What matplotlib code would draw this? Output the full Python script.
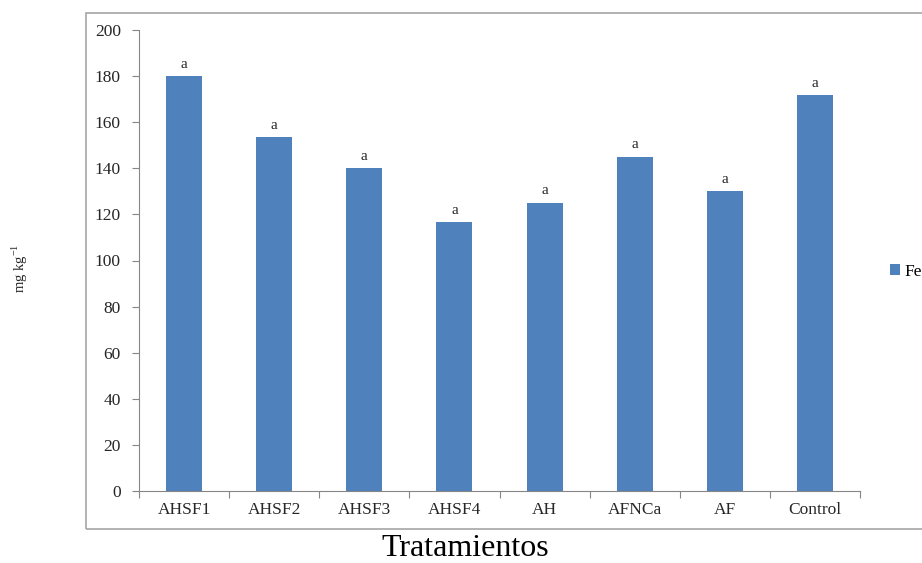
import matplotlib
matplotlib.use('Agg')
from matplotlib import pyplot as plt
from matplotlib.patches import Rectangle

plt.rcParams['font.family'] = ['Liberation Serif', 'DejaVu Serif']

tratamientos = ['AHSF1', 'AHSF2', 'AHSF3', 'AHSF4', 'AH', 'AFNCa', 'AF', 'Control']
fe = [180, 153.5, 140, 116.5, 125, 145, 130, 171.7]
letras = ['a', 'a', 'a', 'a', 'a', 'a', 'a', 'a']

fig = plt.figure(figsize=(9.22, 5.63), dpi=100)
ax = fig.add_axes([139 / 922, 72 / 563, 721 / 922, 461 / 563])

# outer chart border
fig.patches.append(Rectangle((86 / 922, 34 / 563), 0.99 - 86 / 922 + 0.02, 516 / 563,
                             transform=fig.transFigure, fill=False,
                             edgecolor='#a6a6a6', linewidth=1.2))

x = range(len(tratamientos))
bars = ax.bar(x, fe, width=0.4, color='#4F81BD', label='Fe')

for i, (v, l) in enumerate(zip(fe, letras)):
    ax.annotate(l, (i, v), xytext=(0, 4), textcoords='offset points',
                ha='center', va='bottom', fontsize=11, color='#262626')

ax.set_xlim(-0.5, len(tratamientos) - 0.5)
ax.set_ylim(0, 200)
ax.set_yticks(range(0, 201, 20))
ax.set_xticks([i - 0.5 for i in range(len(tratamientos) + 1)], minor=False)
ax.set_xticklabels([])
ax.set_xticks(list(x), minor=True)
ax.set_xticklabels(tratamientos, minor=True)
ax.tick_params(axis='x', which='major', length=5, color='#868686', direction='out')
ax.tick_params(axis='x', which='minor', length=0, pad=8, labelsize=12.5, labelcolor='#262626')
ax.tick_params(axis='y', length=5, color='#868686', labelsize=12.5, labelcolor='#262626', pad=8)

for s in ['top', 'right']:
    ax.spines[s].set_visible(False)
for s in ['left', 'bottom']:
    ax.spines[s].set_color('#868686')

fig.text(20 / 922, 1 - 268 / 563, 'mg kg$^{\\mathregular{-1}}$', rotation=90,
         ha='center', va='center', fontsize=10.5, color='#262626')
fig.text(465 / 922, 1 - 549 / 563, 'Tratamientos', ha='center', va='center',
         fontsize=23, color='black')

fig.legend(handles=[bars], labels=['Fe'], loc='center left',
           bbox_to_anchor=(874 / 922, 1 - 272 / 563), frameon=False,
           handlelength=0.6, handleheight=0.6, handletextpad=0.25, fontsize=12.5)

fig.savefig('out.png', dpi=100)
